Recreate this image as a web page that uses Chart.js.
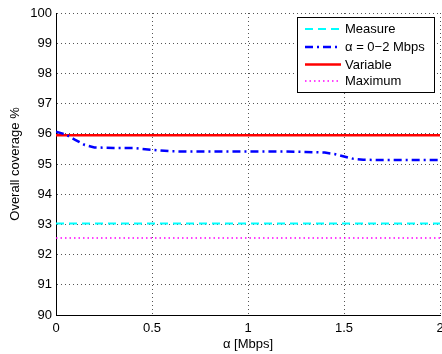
<!DOCTYPE html>
<html>
<head>
<meta charset="utf-8">
<script src="https://cdn.jsdelivr.net/npm/chart.js@4"></script>
<style>
  html, body { margin: 0; padding: 0; background: #fff; }
  #wrap { width: 442px; height: 354px; }
</style>
</head>
<body>
<div id="wrap"><canvas id="myChart" width="442" height="354"></canvas></div>
<script>
// data
var alphaValues = [0, 0.05, 0.1, 0.15, 0.2, 0.3, 0.4, 0.5, 0.6, 0.7, 0.8, 0.9, 1.0, 1.1, 1.2, 1.3, 1.4, 1.45, 1.5, 1.55, 1.6, 1.7, 1.8, 1.9, 2.0];
var alphaSeries = [96.07, 95.98, 95.8, 95.63, 95.55, 95.53, 95.53, 95.47, 95.42, 95.41, 95.41, 95.41, 95.41, 95.41, 95.41, 95.40, 95.38, 95.33, 95.25, 95.17, 95.14, 95.13, 95.13, 95.13, 95.13];
var measureValues = [93.03, 93.03];
var variableValues = [95.95, 95.95];
var maximumValues = [92.55, 92.55];
var edgeAlpha = [0, 2];
var seriesNames = ["Measure", "\u03b1 = 0\u22122 Mbps", "Variable", "Maximum"];
var xTicks = [0, 0.5, 1, 1.5, 2];

function pts(xs, ys) {
  return xs.map(function (x, i) { return { x: x, y: ys[i] }; });
}

var styles = [
  { color: "#00ffff", width: 2, dash: [8, 5] },
  { color: "#0000ff", width: 2.5, dash: [8, 4, 2, 4] },
  { color: "#ff0000", width: 2.5, dash: [] },
  { color: "#ff00ff", width: 1.5, dash: [1.5, 3] }
];

var allData = [
  pts(edgeAlpha, measureValues),
  pts(alphaValues, alphaSeries),
  pts(edgeAlpha, variableValues),
  pts(edgeAlpha, maximumValues)
];

var FONT = "'Liberation Sans', Arial, sans-serif";

var legendBox = {
  id: "legendBox",
  afterDraw: function (chart) {
    var ctx = chart.ctx;
    ctx.save();
    ctx.fillStyle = "#fff";
    ctx.fillRect(297, 17, 137, 75);
    ctx.strokeStyle = "#000";
    ctx.lineWidth = 1;
    ctx.setLineDash([]);
    ctx.strokeRect(297.5, 17.5, 137, 75);
    var rows = [29, 47, 64.5, 81];
    ctx.font = "13px " + FONT;
    ctx.textBaseline = "middle";
    for (var i = 0; i < seriesNames.length; i++) {
      ctx.beginPath();
      ctx.strokeStyle = styles[i].color;
      ctx.lineWidth = styles[i].width;
      ctx.setLineDash(styles[i].dash);
      ctx.moveTo(305, rows[i]);
      ctx.lineTo(341, rows[i]);
      ctx.stroke();
      ctx.setLineDash([]);
      ctx.fillStyle = "#000";
      ctx.fillText(seriesNames[i], 345, rows[i] + 0.5);
    }
    ctx.restore();
  }
};

new Chart("myChart", {
  type: "line",
  data: {
    datasets: allData.map(function (d, i) {
      return {
        label: seriesNames[i],
        data: d,
        borderColor: styles[i].color,
        borderWidth: styles[i].width,
        borderDash: styles[i].dash,
        pointRadius: 0,
        fill: false,
        tension: 0
      };
    })
  },
  options: {
    responsive: false,
    animation: false,
    layout: { padding: { top: 13, right: 2, left: 0, bottom: 0 } },
    plugins: {
      legend: { display: false },
      tooltip: { enabled: false }
    },
    scales: {
      x: {
        type: "linear",
        min: 0,
        max: 2,
        afterBuildTicks: function (scale) {
          scale.ticks = xTicks.map(function (v) { return { value: v }; });
        },
        afterFit: function (scale) {
          scale.height = 39;
          scale.paddingLeft = 0;
          scale.paddingRight = 0;
        },
        ticks: {
          color: "#000",
          padding: 6,
          maxRotation: 0,
          font: { family: FONT, size: 13 },
          callback: function (v) { return String(v); }
        },
        grid: { color: "#555", lineWidth: 1, drawTicks: false },
        border: { display: true, color: "#000", width: 1, dash: [1, 3] },
        title: {
          display: true,
          text: "\u03b1 [Mbps]",
          color: "#000",
          padding: { top: 1, bottom: 2 },
          font: { family: FONT, size: 13 }
        }
      },
      y: {
        min: 90,
        max: 100,
        afterFit: function (scale) { scale.width = 56; },
        ticks: {
          stepSize: 1,
          color: "#000",
          padding: 4,
          font: { family: FONT, size: 13 }
        },
        grid: { color: "#555", lineWidth: 1, drawTicks: false },
        border: { display: true, color: "#000", width: 1, dash: [1, 3] },
        title: {
          display: true,
          text: "Overall coverage %",
          color: "#000",
          padding: { top: 8, bottom: 2 },
          font: { family: FONT, size: 13 }
        }
      }
    }
  },
  plugins: [legendBox]
});
</script>
</body>
</html>
